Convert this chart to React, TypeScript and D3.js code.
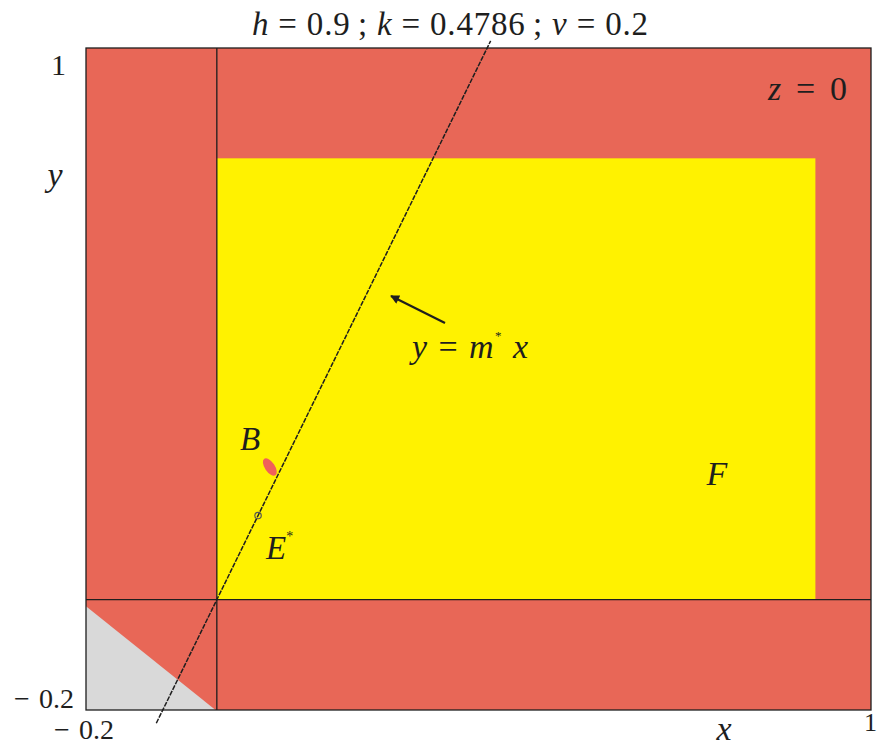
import React from "react";
import * as d3 from "d3";

// Domain of the (x, y) plane shown
const xDomain: [number, number] = [-0.2, 1];
const yDomain: [number, number] = [-0.2, 1];

// Feasible region F (yellow box)
const feasibleX: [number, number] = [0, 0.915];
const feasibleY: [number, number] = [0, 0.8];

// Infeasible corner (grey) in the lower-left quadrant
const greyCorner: [number, number][] = [
  [-0.2, -0.2],
  [-0.2, -0.012],
  [-0.002, -0.2],
];

// Ray y = m* x
const slopeM = 2.42;
const rayY: [number, number] = [-0.224, 1.013];

// Equilibrium point E* on the ray and the small basin B
const pointE: [number, number] = [0.063, 0.063 * 2.42];
const blobB: [number, number] = [0.081, 0.2405];

// Axis tick labels (sign and magnitude kept apart for typesetting)
const xTickLabels = [
  { v: -0.2, sign: "\u2212", t: "0.2" },
  { v: 1, sign: "", t: "1" },
];
const yTickLabels = [
  { v: -0.2, sign: "\u2212", t: "0.2" },
  { v: 1, sign: "", t: "1" },
];

const W = 877;
const H = 746;
const RED = "#E86757";
const YELLOW = "#FFF200";
const GREY = "#D9D9D9";
const INK = "#1e1e1e";
const FONT = "'Liberation Serif', 'Times New Roman', serif";

export default function App() {
  const x = d3.scaleLinear().domain(xDomain).range([86, 871]);
  const y = d3.scaleLinear().domain(yDomain).range([710, 48]);

  const greyPath = d3.line<[number, number]>()
    .x((d) => x(d[0]))
    .y((d) => y(d[1]))(greyCorner)! + "Z";

  const rayPts: [number, number][] = rayY.map((yy) => [yy / slopeM, yy]);
  const rayPath = d3.line<[number, number]>()
    .x((d) => x(d[0]))
    .y((d) => y(d[1]))(rayPts)!;

  const ital = { fontStyle: "italic" as const };

  return (
    <svg
      width={W}
      height={H}
      style={{ position: "absolute", left: 0, top: 0, display: "block", background: "#fff" }}
      fontFamily={FONT}
    >
      <defs>
        <marker id="arrowHead" viewBox="0 0 10 10" refX="9" refY="5" markerWidth="12" markerHeight="9" orient="auto" markerUnits="userSpaceOnUse">
          <path d="M0,0 L10,5 L0,10 Z" fill={INK} />
        </marker>
      </defs>

      {/* whole plane */}
      <rect x={x(xDomain[0])} y={y(yDomain[1])} width={x(xDomain[1]) - x(xDomain[0])} height={y(yDomain[0]) - y(yDomain[1])} fill={RED} />

      {/* grey corner */}
      <path d={greyPath} fill={GREY} />

      {/* feasible region */}
      <rect x={x(feasibleX[0])} y={y(feasibleY[1])} width={x(feasibleX[1]) - x(feasibleX[0])} height={y(feasibleY[0]) - y(feasibleY[1])} fill={YELLOW} />

      {/* frame and zero axes */}
      <rect x={x(xDomain[0])} y={y(yDomain[1])} width={x(xDomain[1]) - x(xDomain[0])} height={y(yDomain[0]) - y(yDomain[1])} fill="none" stroke={INK} strokeWidth={1.3} />
      <line x1={x(0)} x2={x(0)} y1={y(yDomain[0])} y2={y(yDomain[1])} stroke={INK} strokeWidth={1.3} />
      <line x1={x(xDomain[0])} x2={x(xDomain[1])} y1={y(0)} y2={y(0)} stroke={INK} strokeWidth={1.3} />

      {/* basin B */}
      <ellipse cx={0} cy={0} rx={10} ry={5} fill="#F0605A" transform={`translate(${x(blobB[0])},${y(blobB[1])}) rotate(56)`} />

      {/* ray y = m* x */}
      <path d={rayPath} fill="none" stroke={INK} strokeWidth={1.5} strokeDasharray="5 1.2" />

      {/* E* */}
      <circle cx={x(pointE[0])} cy={y(pointE[1])} r={3.2} fill="none" stroke="#555" strokeWidth={1.2} />

      {/* annotation arrow */}
      <line x1={445} y1={323} x2={391} y2={296} stroke={INK} strokeWidth={2.2} markerEnd="url(#arrowHead)" />

      {/* tick labels */}
      <text x={66} y={y(1) + 27} textAnchor="end" fontSize={30} fill={INK}>{yTickLabels[1].t}</text>
      <text y={708} fontSize={28} fill={INK}>
        <tspan x={14}>{yTickLabels[0].sign}</tspan>
        <tspan x={39}>{yTickLabels[0].t}</tspan>
      </text>
      <text y={739} fontSize={28} fill={INK}>
        <tspan x={54}>{xTickLabels[0].sign}</tspan>
        <tspan x={79}>{xTickLabels[0].t}</tspan>
      </text>
      <text x={877} y={731} textAnchor="end" fontSize={26} fill={INK}>{xTickLabels[1].t}</text>

      {/* axis names */}
      <text x={55} y={186} textAnchor="middle" fontSize={34} fill={INK} style={ital}>y</text>
      <text x={724} y={740} textAnchor="middle" fontSize={34} fill={INK} style={ital}>x</text>

      {/* parameter title */}
      <text x={252} y={35} fontSize={33} fill={INK} textLength={396} lengthAdjust="spacing">
        <tspan style={ital}>h</tspan>
        <tspan>{" = 0.9\u2009; "}</tspan>
        <tspan style={ital}>k</tspan>
        <tspan>{" = 0.4786\u2009;  "}</tspan>
        <tspan style={ital}>v</tspan>
        <tspan>{" = 0.2"}</tspan>
      </text>

      <text x={768} y={100} fontSize={34} fill={INK} textLength={79} lengthAdjust="spacing">
        <tspan style={ital}>z</tspan>
        <tspan>{" = 0"}</tspan>
      </text>

      {/* region and point labels */}
      <text x={717} y={485} textAnchor="middle" fontSize={34} fill={INK} style={ital}>F</text>
      <text x={250} y={450} textAnchor="middle" fontSize={33} fill={INK} style={ital}>B</text>
      <text x={266} y={559} fontSize={33} fill={INK}>
        <tspan style={ital}>E</tspan>
        <tspan fontSize={14} dy={-18}>*</tspan>
      </text>

      <text x={412} y={358} fontSize={34} fill={INK} textLength={116} lengthAdjust="spacing">
        <tspan style={ital}>y</tspan>
        <tspan>{" = "}</tspan>
        <tspan style={ital}>m</tspan>
        <tspan fontSize={13} dy={-18}>*</tspan>
        <tspan dy={18}>{" "}</tspan>
        <tspan style={ital}>x</tspan>
      </text>
    </svg>
  );
}
